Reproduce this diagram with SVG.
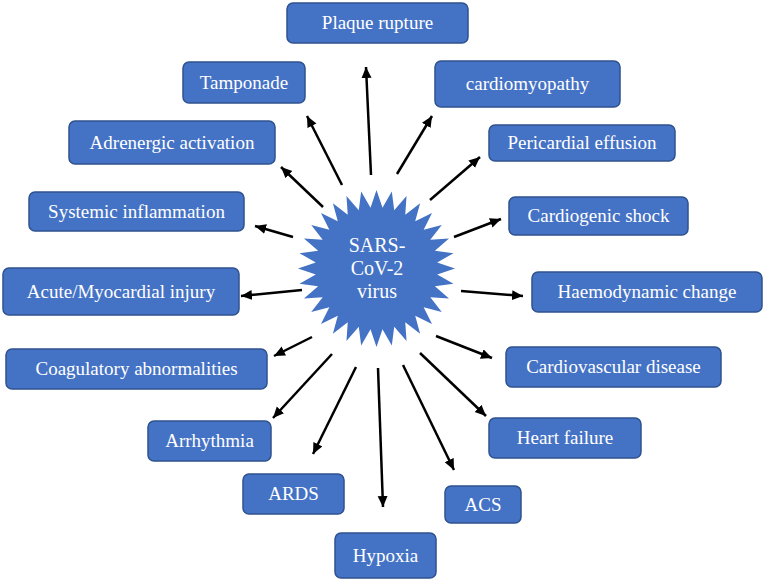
<svg xmlns="http://www.w3.org/2000/svg" width="765" height="581" viewBox="0 0 765 581">
<defs>
<style>
.box{fill:#4472C4;stroke:#2F528F;stroke-width:1.5}
.lbl{font-family:"Liberation Serif","Times New Roman",serif;font-size:19px;fill:#ffffff;text-anchor:middle}
.ctr{font-family:"Liberation Serif","Times New Roman",serif;font-size:20px;fill:#ffffff;text-anchor:middle}
.arr{stroke:#000;stroke-width:2.5;fill:none;marker-end:url(#ah)}
</style>
<marker id="ah" markerUnits="userSpaceOnUse" markerWidth="12" markerHeight="11" refX="11" refY="5" orient="auto">
<path d="M0,0 L11,5 L0,10 Z" fill="#000"/>
</marker>
</defs>
<rect width="765" height="581" fill="#ffffff"/>
<g id="connectors">
<line class="arr" x1="371" y1="175" x2="366" y2="67"/>
<line class="arr" x1="342" y1="185" x2="307" y2="116"/>
<line class="arr" x1="323" y1="207" x2="281" y2="167"/>
<line class="arr" x1="293" y1="237" x2="255" y2="226"/>
<line class="arr" x1="302" y1="290" x2="241" y2="296"/>
<line class="arr" x1="312" y1="337" x2="274" y2="356"/>
<line class="arr" x1="332" y1="354" x2="273" y2="418"/>
<line class="arr" x1="356" y1="367" x2="313" y2="454"/>
<line class="arr" x1="378" y1="368" x2="383" y2="507"/>
<line class="arr" x1="403" y1="365" x2="454" y2="470"/>
<line class="arr" x1="420" y1="353" x2="486" y2="416"/>
<line class="arr" x1="436" y1="336" x2="492" y2="358"/>
<line class="arr" x1="461" y1="291" x2="523" y2="296"/>
<line class="arr" x1="454" y1="237" x2="501" y2="219"/>
<line class="arr" x1="430" y1="200" x2="480" y2="157"/>
<line class="arr" x1="397" y1="174" x2="432" y2="116"/>
</g>
<g id="virus">
<polygon transform="translate(376.5,268.5)" fill="#4472C4" points="0,-78.5 5.98,-60.71 15.31,-76.99 17.71,-58.37 30.04,-72.52 28.76,-53.8 43.61,-65.27 38.7,-47.15 55.51,-55.51 47.15,-38.7 65.27,-43.61 53.8,-28.76 72.52,-30.04 58.37,-17.71 76.99,-15.31 60.71,-5.98 78.5,0 60.71,5.98 76.99,15.31 58.37,17.71 72.52,30.04 53.8,28.76 65.27,43.61 47.15,38.7 55.51,55.51 38.7,47.15 43.61,65.27 28.76,53.8 30.04,72.52 17.71,58.37 15.31,76.99 5.98,60.71 0,78.5 -5.98,60.71 -15.31,76.99 -17.71,58.37 -30.04,72.52 -28.76,53.8 -43.61,65.27 -38.7,47.15 -55.51,55.51 -47.15,38.7 -65.27,43.61 -53.8,28.76 -72.52,30.04 -58.37,17.71 -76.99,15.31 -60.71,5.98 -78.5,0 -60.71,-5.98 -76.99,-15.31 -58.37,-17.71 -72.52,-30.04 -53.8,-28.76 -65.27,-43.61 -47.15,-38.7 -55.51,-55.51 -38.7,-47.15 -43.61,-65.27 -28.76,-53.8 -30.04,-72.52 -17.71,-58.37 -15.31,-76.99 -5.98,-60.71"/>
<text class="ctr" x="377" y="252">SARS-</text>
<text class="ctr" x="377" y="275">CoV-2</text>
<text class="ctr" x="377" y="298">virus</text>
</g>
<g id="plaque"><rect class="box" x="287" y="3" width="181" height="40" rx="6"/><text class="lbl" x="377.5" y="29">Plaque rupture</text></g>
<g id="tamponade"><rect class="box" x="183" y="62" width="122" height="41" rx="6"/><text class="lbl" x="244" y="88.5">Tamponade</text></g>
<g id="cardiomyopathy"><rect class="box" x="435" y="61" width="185" height="46" rx="6"/><text class="lbl" x="527.5" y="90">cardiomyopathy</text></g>
<g id="adrenergic"><rect class="box" x="69" y="121" width="206" height="43" rx="6"/><text class="lbl" x="172" y="148.5">Adrenergic activation</text></g>
<g id="pericardial"><rect class="box" x="489" y="125" width="186" height="36" rx="6"/><text class="lbl" x="582" y="149">Pericardial effusion</text></g>
<g id="systemic"><rect class="box" x="29" y="192" width="215" height="39" rx="6"/><text class="lbl" x="136.5" y="217.5">Systemic inflammation</text></g>
<g id="cardiogenic"><rect class="box" x="509" y="197" width="179" height="38" rx="6"/><text class="lbl" x="598.5" y="222">Cardiogenic shock</text></g>
<g id="acute"><rect class="box" x="3" y="268" width="236" height="47" rx="6"/><text class="lbl" x="121" y="297.5">Acute/Myocardial injury</text></g>
<g id="haemodynamic"><rect class="box" x="532" y="272" width="230" height="40" rx="6"/><text class="lbl" x="647" y="298">Haemodynamic change</text></g>
<g id="coagulatory"><rect class="box" x="6" y="349" width="261" height="40" rx="6"/><text class="lbl" x="136.5" y="375">Coagulatory abnormalities</text></g>
<g id="cardiovascular"><rect class="box" x="506" y="347" width="215" height="40" rx="6"/><text class="lbl" x="613.5" y="373">Cardiovascular disease</text></g>
<g id="arrhythmia"><rect class="box" x="148" y="421" width="123" height="40" rx="6"/><text class="lbl" x="209.5" y="447">Arrhythmia</text></g>
<g id="heartfailure"><rect class="box" x="489" y="418" width="152" height="40" rx="6"/><text class="lbl" x="565" y="444">Heart failure</text></g>
<g id="ards"><rect class="box" x="243" y="474" width="101" height="40" rx="6"/><text class="lbl" x="293.5" y="500">ARDS</text></g>
<g id="acs"><rect class="box" x="445" y="486" width="76" height="37" rx="6"/><text class="lbl" x="483" y="510.5">ACS</text></g>
<g id="hypoxia"><rect class="box" x="335" y="533" width="101" height="45" rx="6"/><text class="lbl" x="385.5" y="561.5">Hypoxia</text></g>
</svg>
